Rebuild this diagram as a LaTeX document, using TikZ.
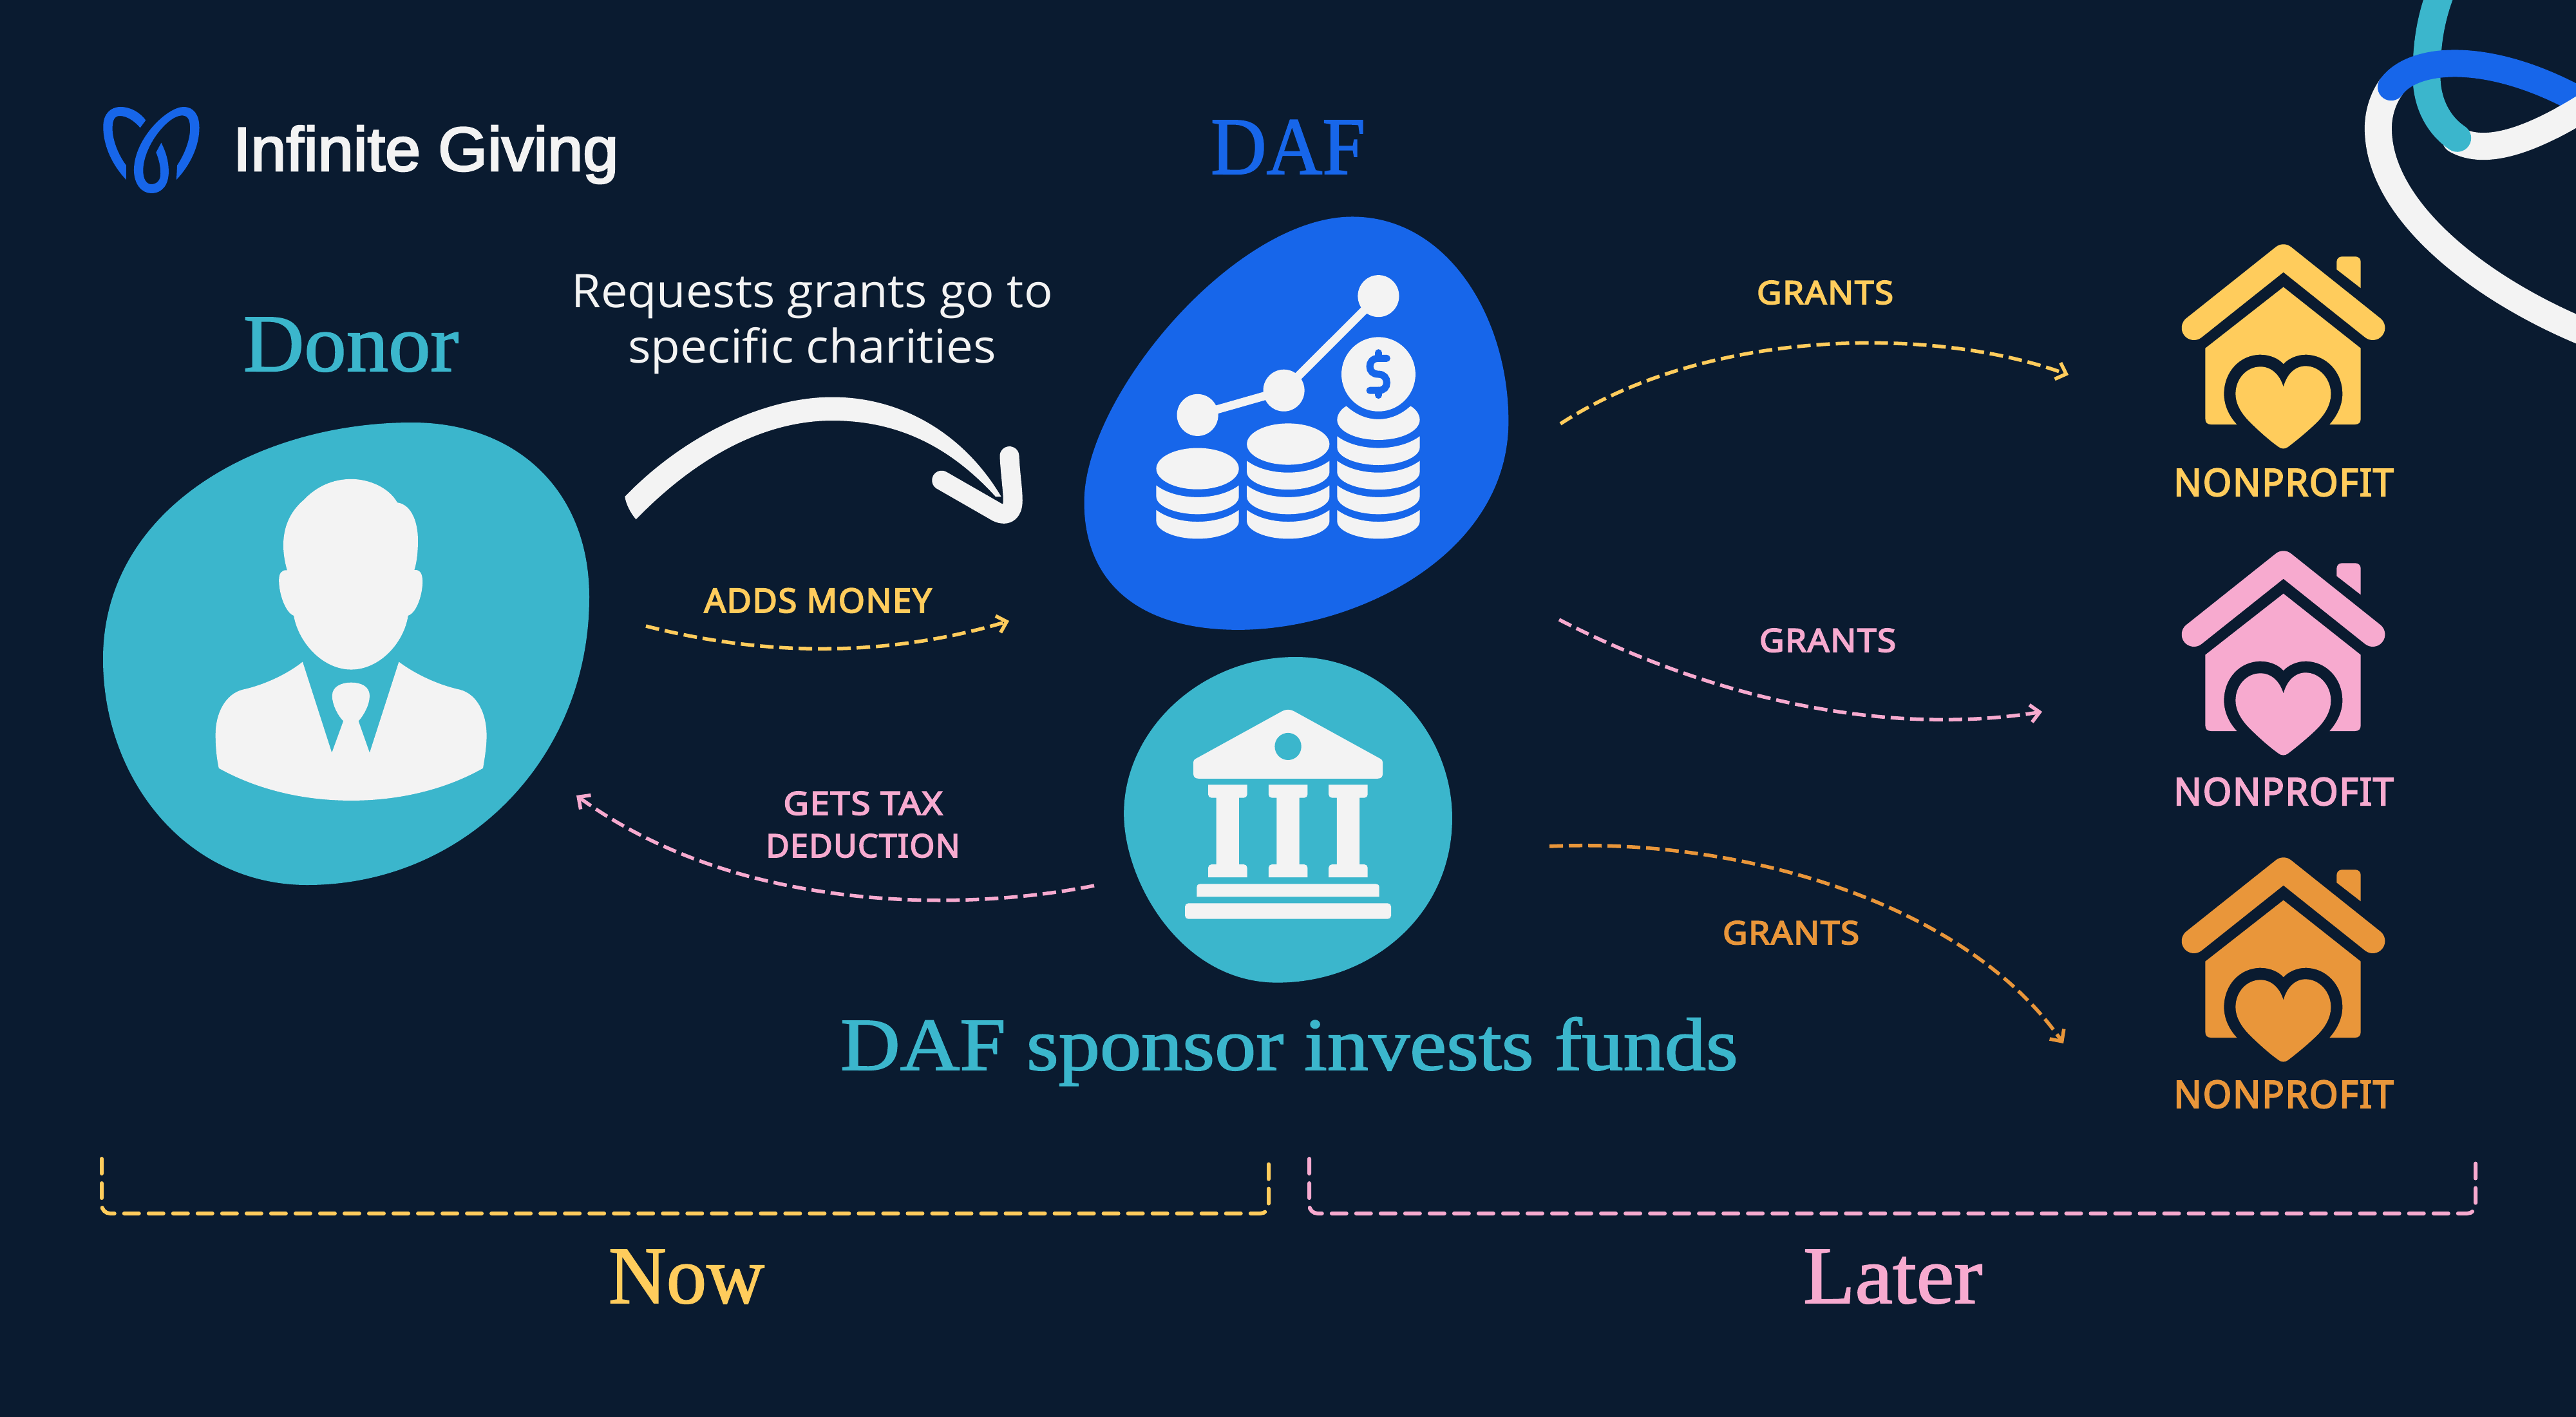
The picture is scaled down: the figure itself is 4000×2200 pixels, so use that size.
\documentclass[tikz,border=0pt]{standalone}
\usepackage{fontspec}
\usepackage{graphicx}
\usetikzlibrary{arrows.meta}
\setmainfont{Liberation Sans}
\newfontfamily\logofont[FakeBold=3]{Liberation Sans}
\newfontfamily\headfont[FakeBold=1.5]{Liberation Serif}
\newfontfamily\tagfont[LetterSpace=3,FakeBold=3.5]{Noto Sans}
\newfontfamily\bodyfont{Open Sans}
\definecolor{bgc}{HTML}{0A1B30}
\definecolor{tealc}{HTML}{3BB6CC}
\definecolor{bluec}{HTML}{1766EA}
\definecolor{whitec}{HTML}{F3F3F3}
\definecolor{yellowc}{HTML}{FFCC5C}
\definecolor{pinkc}{HTML}{F7AACF}
\definecolor{orangec}{HTML}{E9963A}
\tikzset{
  txt/.style={inner sep=0pt,outer sep=0pt,anchor=base},
  flow/.style={line width=.055cm,dash pattern=on .21cm off .09cm,-{Straight Barb[length=.14cm,width=.27cm]}},
  brace/.style={line width=.06cm,line cap=round,dash pattern=on .23cm off .15cm,rounded corners=.13cm},
}
\newcommand\fitw[2]{\resizebox{#1}{\height}{#2}}
\newcommand\head[3]{\fontsize{#1}{#1}\selectfont\headfont\fitw{#2}{#3}}
\newcommand\tagt[3]{\fontsize{#1}{#1}\selectfont\tagfont\fitw{#2}{#3}}
\newcommand\coinband[2]{\fill[whitec] (#1-134,#2) .. controls (#1-100,#2+28) and (#1-50,#2+42) .. (#1,#2+42) .. controls (#1+50,#2+42) and (#1+100,#2+28) .. (#1+134,#2) -- (#1+134,#2+40) .. controls (#1+134,#2+75) and (#1+70,#2+103) .. (#1,#2+103) .. controls (#1-70,#2+103) and (#1-134,#2+75) .. (#1-134,#2+40) -- cycle;}
\newcommand\bankcol[1]{\fill[whitec] (#1-79,622) -- (#1+79,622) [rounded corners=.05cm] -- (#1+79,680) [sharp corners] -- (#1+46,680) -- (#1+46,975) [rounded corners=.05cm] -- (#1+79,975) [sharp corners] -- (#1+79,1032) -- (#1-79,1032) [rounded corners=.05cm] -- (#1-79,975) [sharp corners] -- (#1-46,975) -- (#1-46,680) [rounded corners=.05cm] -- (#1-79,680) [sharp corners] -- cycle;}
\newcommand\housepic[2]{%
\begin{scope}[shift={(3330,#1)},scale=.33333]
\draw[#2,line width=.38cm,line cap=round,line join=round] (230,447) -- (647,115) -- (1063,447);
\fill[#2,rounded corners=.08cm] (895,175) -- (895,115) -- (1007,115) [sharp corners] -- (1007,262) -- cycle;
\fill[#2] (647,257) -- (1007,542) -- (1007,870) .. controls (1007,888) and (998,897) .. (980,897) -- (862,897) .. controls (895,860) and (922,810) .. (922,755) .. controls (922,650) and (845,572) .. (750,572) .. controls (710,572) and (670,590) .. (647,615) .. controls (625,590) and (585,572) .. (540,572) .. controls (445,572) and (370,650) .. (370,755) .. controls (370,810) and (395,860) .. (430,897) -- (310,897) .. controls (292,897) and (283,888) .. (283,870) -- (283,542) -- cycle;
\fill[#2] (647,722) .. controls (630,665) and (590,628) .. (540,628) .. controls (475,628) and (424,685) .. (424,755) .. controls (424,800) and (450,845) .. (490,885) .. controls (530,925) and (580,970) .. (625,1002) .. controls (638,1012) and (655,1012) .. (668,1002) .. controls (710,970) and (765,925) .. (805,885) .. controls (845,845) and (868,800) .. (868,755) .. controls (868,685) and (815,625) .. (750,625) .. controls (700,625) and (662,665) .. (647,722) -- cycle;
\end{scope}}
\begin{document}
\begin{tikzpicture}[x=.01cm,y=-.01cm]
\useasboundingbox (0,0) rectangle (4000,2200);
\fill[bgc] (0,0) rectangle (4000,2200);
% ribbon
\begin{scope}
\clip (0,0) rectangle (4000,2200);
\begin{scope}[shift={(3300,0)},xscale=.44643,yscale=.5102]
\draw[whitec,line width=.42cm,line cap=round] (1750,1060) .. controls (1350,950) and (880,680) .. (880,390) .. controls (880,340) and (900,295) .. (925,265);
\draw[whitec,line width=.42cm,line cap=round] (1150,425) .. controls (1250,475) and (1430,440) .. (1750,235);
\draw[tealc,line width=.43cm,line cap=round] (1100,-30) .. controls (1060,60) and (1048,140) .. (1048,230) .. controls (1048,320) and (1095,385) .. (1155,420);
\draw[bluec,line width=.42cm,line cap=round] (925,265) .. controls (1010,160) and (1330,150) .. (1700,370);
\begin{scope}
\clip (1500,200) rectangle (1800,500);
\draw[whitec,line width=.42cm] (1150,425) .. controls (1250,475) and (1430,440) .. (1750,235);
\end{scope}
\end{scope}
\end{scope}
% logo
\begin{scope}[shift={(100,100)},xscale=.57405,yscale=.33333]
\fill[bluec] (167,537) .. controls (130,470) and (105,380) .. (105,290) .. controls (105,230) and (125,198) .. (152,198) .. controls (180,198) and (205,225) .. (220,260) -- (205,295) .. controls (190,265) and (170,240) .. (150,240) .. controls (135,240) and (130,260) .. (130,300) .. controls (130,350) and (145,420) .. (167,470) -- cycle;
\fill[bluec] (303,537) .. controls (340,470) and (365,380) .. (365,295) .. controls (365,235) and (350,198) .. (322,198) .. controls (280,198) and (190,340) .. (188,490) .. controls (188,560) and (210,600) .. (235,600) .. controls (265,600) and (282,560) .. (282,500) .. controls (282,450) and (275,410) .. (262,365) -- (248,410) .. controls (255,440) and (260,470) .. (260,510) .. controls (260,540) and (250,558) .. (235,558) .. controls (222,558) and (213,535) .. (213,495) .. controls (213,380) and (280,238) .. (318,238) .. controls (335,238) and (340,260) .. (340,300) .. controls (340,350) and (325,420) .. (305,470) -- cycle;
\end{scope}
\node[txt,text=whitec,anchor=base west] (logo) at (362,265) {\fontsize{27.4}{27.4}\selectfont\logofont\fitw{5.98cm}{Infinite Giving}};
% donor blob and person
\fill[tealc] (640,656) .. controls (800,656) and (915,760) .. (915,927) .. controls (915,1180) and (720,1374) .. (477,1374) .. controls (290,1374) and (160,1210) .. (160,1023) .. controls (160,790) and (400,656) .. (640,656) -- cycle;
\begin{scope}[shift={(150,640)},xscale=.5102,yscale=.4785]
\fill[whitec] (580,513) .. controls (555,420) and (570,340) .. (630,285) .. controls (670,240) and (720,217) .. (775,217) .. controls (830,217) and (890,245) .. (915,293) .. controls (960,300) and (978,360) .. (978,415) .. controls (978,450) and (975,485) .. (967,512) .. controls (985,510) and (992,525) .. (992,550) .. controls (992,590) and (975,650) .. (948,660) .. controls (935,750) and (860,835) .. (775,835) .. controls (690,835) and (615,750) .. (600,660) .. controls (575,650) and (555,590) .. (555,545) .. controls (555,525) and (562,510) .. (580,513) -- cycle;
\fill[whitec] (627,810) -- (716,1105) -- (751,1002) .. controls (735,985) and (717,950) .. (717,920) .. controls (717,890) and (745,877) .. (775,877) .. controls (805,877) and (831,890) .. (831,920) .. controls (831,950) and (812,985) .. (797,1002) -- (831,1105) -- (920,810) .. controls (970,850) and (1040,885) .. (1105,900) .. controls (1160,915) and (1187,980) .. (1187,1050) .. controls (1187,1085) and (1180,1130) .. (1176,1155) .. controls (1060,1225) and (920,1260) .. (775,1260) .. controls (630,1260) and (490,1225) .. (372,1155) .. controls (365,1120) and (362,1085) .. (362,1045) .. controls (362,980) and (390,915) .. (445,900) .. controls (510,885) and (580,850) .. (627,810) -- cycle;
\end{scope}
% DAF blob and coins
\begin{scope}[shift={(1650,320)},xscale=.47847,yscale=.43365]
\fill[bluec] (940,38) .. controls (1250,38) and (1447,400) .. (1447,770) .. controls (1447,1250) and (950,1517) .. (570,1517) .. controls (250,1517) and (70,1350) .. (70,1060) .. controls (70,680) and (560,38) .. (940,38) -- cycle;
\draw[whitec,line width=.13cm] (438,748) -- (718,660) -- (1025,322);
\fill[whitec] (438,748) ellipse (67 and 75);
\fill[whitec] (718,660) ellipse (67 and 75);
\fill[whitec] (1025,322) ellipse (67 and 75);
\fill[whitec] (438,940) ellipse (134 and 74);
\fill[whitec] (732,852) ellipse (134 and 74);
\coinband{438}{1000}\coinband{438}{1088}
\coinband{732}{912}\coinband{732}{1000}\coinband{732}{1088}
\coinband{1025}{824}\coinband{1025}{912}\coinband{1025}{1000}\coinband{1025}{1088}
\fill[whitec] (1129,716) .. controls (1145,725) and (1159,745) .. (1159,765) .. controls (1159,805) and (1100,837) .. (1025,837) .. controls (950,837) and (891,805) .. (891,765) .. controls (891,745) and (905,725) .. (921,716) .. controls (950,745) and (985,763) .. (1025,763) .. controls (1065,763) and (1100,745) .. (1129,716) -- cycle;
\fill[whitec] (1025,602) ellipse (120 and 133);
\draw[bluec,line width=.11cm,line cap=round] (1052,545) -- (1025,545) .. controls (1005,545) and (997,560) .. (997,574) .. controls (997,590) and (1007,602) .. (1025,602) .. controls (1043,602) and (1052,616) .. (1052,632) .. controls (1052,648) and (1043,660) .. (1025,660) -- (997,660);
\draw[bluec,line width=.11cm,line cap=round] (1025,525) -- (1025,545) (1025,660) -- (1025,677);
\end{scope}
% bank
\begin{scope}[shift={(1700,1000)},xscale=.3827,yscale=.35088]
\fill[tealc] (815,57) .. controls (1180,57) and (1450,400) .. (1450,770) .. controls (1450,1200) and (1120,1498) .. (740,1498) .. controls (350,1498) and (118,1050) .. (118,750) .. controls (118,380) and (430,57) .. (815,57) -- cycle;
\fill[whitec] (760,297) -- (410,507) .. controls (404,510) and (400,515) .. (400,522) -- (400,575) .. controls (400,588) and (408,595) .. (420,595) -- (1148,595) .. controls (1160,595) and (1168,588) .. (1168,575) -- (1168,522) .. controls (1168,515) and (1164,510) .. (1158,507) -- (808,297) .. controls (795,288) and (773,288) .. (760,297) -- cycle;
\fill[tealc] (784,453) ellipse (54 and 60);
\bankcol{539}\bankcol{784}\bankcol{1028}
\fill[whitec] (414,1118) -- (414,1075) .. controls (414,1066) and (420,1061) .. (428,1061) -- (1140,1061) .. controls (1148,1061) and (1154,1066) .. (1154,1075) -- (1154,1118) -- cycle;
\fill[whitec,rounded corners=.05cm] (366,1147) rectangle (1202,1216);
\end{scope}
% white curved arrow
\begin{scope}[shift={(900,580)},xscale=.47847,yscale=.5618]
\fill[whitec] (147,340) .. controls (340,170) and (600,65) .. (820,65) .. controls (1050,65) and (1250,170) .. (1368,340) -- (1350,340) .. controls (1200,200) and (1030,130) .. (820,130) .. controls (600,130) and (380,230) .. (183,403) .. controls (165,385) and (150,360) .. (147,340) -- cycle;
\draw[whitec,line width=.3cm,line cap=round,line join=round] (1395,228) .. controls (1398,280) and (1406,320) .. (1406,350) .. controls (1406,385) and (1385,395) .. (1355,383) -- (1175,295);
\end{scope}
% houses
\housepic{360}{yellowc}
\housepic{836}{pinkc}
\housepic{1312}{orangec}
% connector ends
\coordinate (moneyA) at (1003,972);
\coordinate (moneyB) at (1567,964);
\coordinate (taxA) at (1699,1375);
\coordinate (taxB) at (895,1235);
\coordinate (g1A) at (2423,658);
\coordinate (g1B) at (3212,582);
\coordinate (g2A) at (2421,962);
\coordinate (g2B) at (3171,1105);
\coordinate (g3A) at (2406,1314);
\coordinate (g3B) at (3204,1620);
\draw[flow,yellowc] (moneyA) .. controls (1190,1020) and (1380,1020) .. (moneyB);
\draw[flow,pinkc] (taxA) .. controls (1500,1415) and (1150,1420) .. (taxB);
\draw[flow,yellowc] (g1A) .. controls (2650,510) and (3000,505) .. (g1B);
\draw[flow,pinkc] (g2A) .. controls (2650,1080) and (2920,1145) .. (g2B);
\draw[flow,orangec] (g3A) .. controls (2700,1300) and (3050,1400) .. (g3B);
% brackets
\coordinate (nowL) at (158,1799);
\coordinate (nowR) at (1970,1799);
\coordinate (latL) at (2033,1799);
\coordinate (latR) at (3844,1799);
\draw[brace,yellowc] (nowL) -- (158,1884) -- (1970,1884) -- (nowR);
\draw[brace,pinkc] (latL) -- (2033,1884) -- (3844,1884) -- (latR);
% labels
\node[txt,text=tealc] (donor) at (545,576) {\head{36}{3.34cm}{Donor}};
\node[txt,text=bluec] (daf) at (2000,270) {\head{36}{2.40cm}{DAF}};
\node[txt,text=tealc] (sponsor) at (2002,1661) {\head{33}{13.93cm}{DAF sponsor invests funds}};
\node[txt,text=yellowc] (nowt) at (1066,2023) {\head{36}{2.42cm}{Now}};
\node[txt,text=pinkc] (latert) at (2939,2023) {\head{36}{2.78cm}{Later}};
\node[txt,text=whitec] (req1) at (1261,477) {\fontsize{20.5}{20.5}\selectfont\bodyfont\fitw{7.47cm}{Requests grants go to}};
\node[txt,text=whitec] (req2) at (1261,563) {\fontsize{20.5}{20.5}\selectfont\bodyfont\fitw{5.71cm}{specific charities}};
\node[txt,text=yellowc] (adds) at (1270,951) {\tagt{14.8}{3.53cm}{ADDS MONEY}};
\node[txt,text=pinkc] (tax1) at (1340,1265) {\tagt{14.2}{2.47cm}{GETS TAX}};
\node[txt,text=pinkc] (tax2) at (1340,1331) {\tagt{14.2}{3.01cm}{DEDUCTION}};
\node[txt,text=yellowc] (gr1) at (2834,472) {\tagt{14.2}{2.12cm}{GRANTS}};
\node[txt,text=pinkc] (gr2) at (2838,1012) {\tagt{14.2}{2.12cm}{GRANTS}};
\node[txt,text=orangec] (gr3) at (2781,1466) {\tagt{14.2}{2.12cm}{GRANTS}};
\node[txt,text=yellowc] (np1) at (3546,770) {\tagt{16.7}{3.41cm}{NONPROFIT}};
\node[txt,text=pinkc] (np2) at (3546,1250) {\tagt{16.7}{3.41cm}{NONPROFIT}};
\node[txt,text=orangec] (np3) at (3546,1720) {\tagt{16.7}{3.41cm}{NONPROFIT}};
\end{tikzpicture}
\end{document}
